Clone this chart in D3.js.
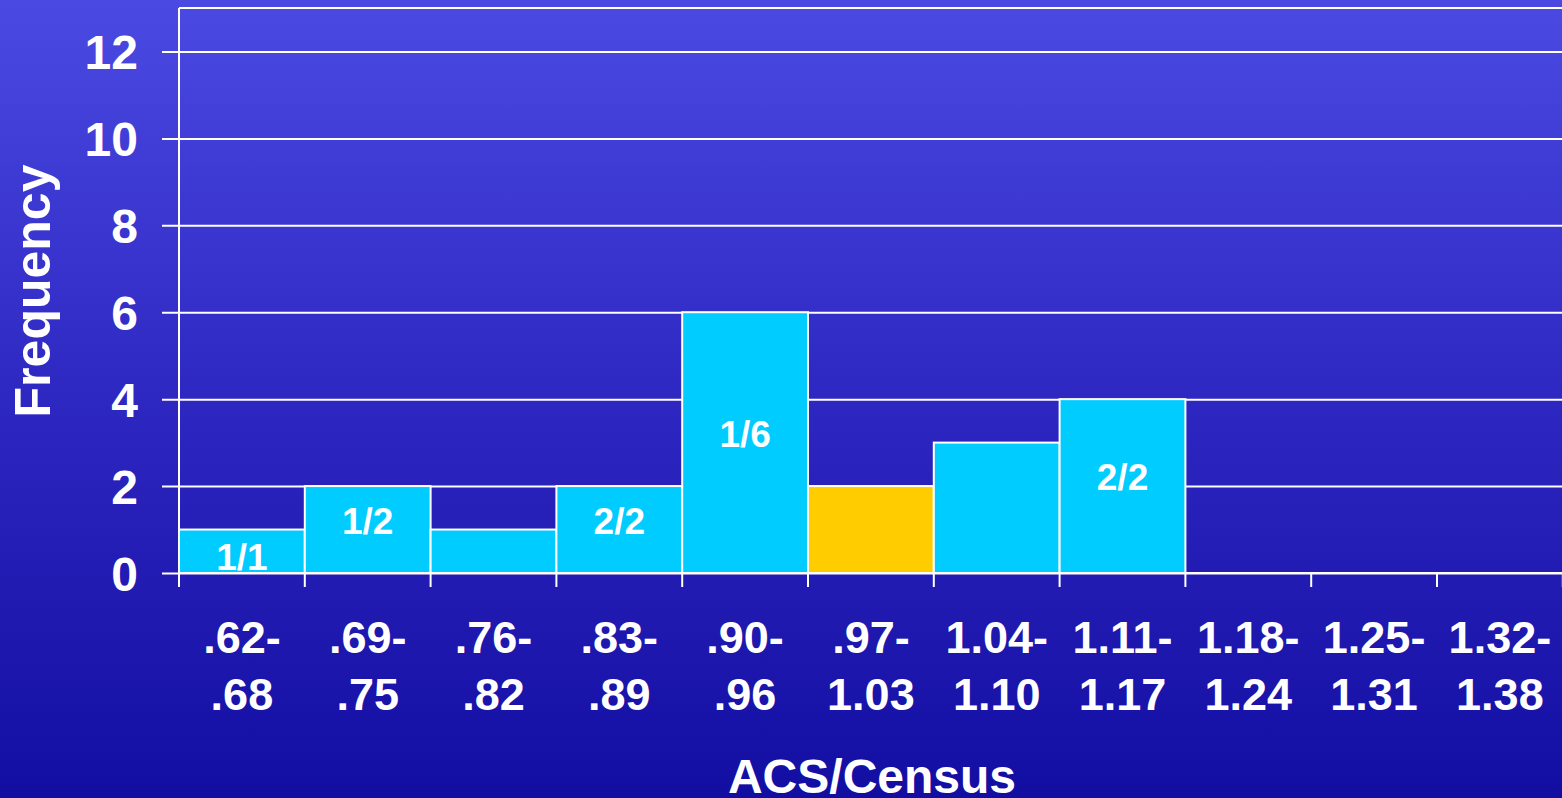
<!DOCTYPE html>
<html>
<head>
<meta charset="utf-8">
<script src="https://cdn.jsdelivr.net/npm/d3@7"></script>
<style>
  html, body { margin: 0; padding: 0; overflow: hidden; }
  svg { display: block; }
</style>
</head>
<body>
<div id="container"></div>
<script>
// Chart size
const width = 1562;
const height = 798;

// Data
const binTop = [".62-", ".69-", ".76-", ".83-", ".90-", ".97-", "1.04-", "1.11-", "1.18-", "1.25-", "1.32-"];
const binBottom = [".68", ".75", ".82", ".89", ".96", "1.03", "1.10", "1.17", "1.24", "1.31", "1.38"];
const frequency = [1, 2, 1, 2, 6, 2, 3, 4, 0, 0, 0];
const barLabels = ["1/1", "1/2", "", "2/2", "1/6", "", "", "2/2", "", "", ""];
const highlight = [false, false, false, false, false, true, false, false, false, false, false];
const yTicks = [0, 2, 4, 6, 8, 10, 12];

const margin = {top: 8, left: 179, bottom: 225};
const font = "Arial, 'Liberation Sans', sans-serif";

const svg = d3.select("#container")
    .append("svg")
    .attr("width", width)
    .attr("height", height);

// Blue gradient background
const grad = svg.append("defs")
    .append("linearGradient")
    .attr("id", "bg")
    .attr("x1", 0).attr("y1", 0)
    .attr("x2", 0).attr("y2", 1);
grad.append("stop").attr("offset", "0%").attr("stop-color", "#4a4ae2");
grad.append("stop").attr("offset", "55%").attr("stop-color", "#2b24be");
grad.append("stop").attr("offset", "100%").attr("stop-color", "#130ea2");

svg.append("rect")
    .attr("width", width)
    .attr("height", height)
    .attr("fill", "url(#bg)");

// Scales
const x = d3.scaleBand()
    .domain(d3.range(binTop.length))
    .range([margin.left, margin.left + 125.8 * binTop.length])
    .padding(0);

const y = d3.scaleLinear()
    .domain([0, 13])
    .range([height - margin.bottom, margin.top]);

// Horizontal gridlines with tick marks on the left
svg.append("g")
    .attr("transform", `translate(${margin.left},0)`)
    .call(d3.axisLeft(y).tickValues(yTicks).tickSize(-(width - margin.left)).tickSizeOuter(0).tickPadding(41))
    .call(g => g.select(".domain").remove())
    .call(g => g.selectAll(".tick line")
        .attr("x1", -17)
        .attr("stroke", "#fff")
        .attr("stroke-width", 2))
    .call(g => g.selectAll(".tick text")
        .attr("fill", "#fff")
        .attr("font-family", font)
        .attr("font-weight", "bold")
        .attr("font-size", 48)
        .attr("dy", "0.36em"));

// Frame: top line and left axis line
svg.append("line")
    .attr("x1", margin.left).attr("x2", width)
    .attr("y1", y(13)).attr("y2", y(13))
    .attr("stroke", "#fff").attr("stroke-width", 2);
svg.append("line")
    .attr("x1", margin.left).attr("x2", margin.left)
    .attr("y1", y(13)).attr("y2", y(0) + 14)
    .attr("stroke", "#fff").attr("stroke-width", 2);

// Bars
svg.append("g")
    .selectAll("rect")
    .data(frequency)
    .join("rect")
    .attr("x", (d, i) => x(i))
    .attr("y", d => y(d))
    .attr("width", x.bandwidth())
    .attr("height", d => y(0) - y(d))
    .attr("fill", (d, i) => highlight[i] ? "#ffcc00" : "#00ccff")
    .attr("stroke", "#fff")
    .attr("stroke-width", 2);

// Labels inside bars (short bars get the label at the bottom)
svg.append("g")
    .selectAll("text")
    .data(frequency)
    .join("text")
    .attr("x", (d, i) => x(i) + x.bandwidth() / 2)
    .attr("y", d => d < 2 ? y(0) - 3 : y(d / 2) + 4)
    .attr("text-anchor", "middle")
    .attr("fill", "#fff")
    .attr("font-family", font)
    .attr("font-weight", "bold")
    .attr("font-size", 37)
    .text((d, i) => barLabels[i]);

// Bottom axis line and tick marks at bin edges
const edges = d3.range(binTop.length + 1).map(i => margin.left + x.step() * i);
svg.append("line")
    .attr("x1", margin.left).attr("x2", width)
    .attr("y1", y(0)).attr("y2", y(0))
    .attr("stroke", "#fff").attr("stroke-width", 2);
svg.append("g")
    .selectAll("line")
    .data(edges)
    .join("line")
    .attr("x1", d => d).attr("x2", d => d)
    .attr("y1", y(0)).attr("y2", y(0) + 14)
    .attr("stroke", "#fff").attr("stroke-width", 2);

// Two-line bin labels
const labels = svg.append("g")
    .attr("fill", "#fff")
    .attr("font-family", font)
    .attr("font-weight", "bold")
    .attr("font-size", 45)
    .attr("text-anchor", "middle");

labels.selectAll(".top")
    .data(binTop)
    .join("text")
    .attr("class", "top")
    .attr("x", (d, i) => x(i) + x.bandwidth() / 2)
    .attr("y", y(0) + 80)
    .text(d => d);

labels.selectAll(".bottom")
    .data(binBottom)
    .join("text")
    .attr("class", "bottom")
    .attr("x", (d, i) => x(i) + x.bandwidth() / 2)
    .attr("y", y(0) + 137)
    .text(d => d);

// Axis titles
svg.append("text")
    .attr("x", 872)
    .attr("y", 793)
    .attr("text-anchor", "middle")
    .attr("fill", "#fff")
    .attr("font-family", font)
    .attr("font-weight", "bold")
    .attr("font-size", 48)
    .text("ACS/Census");

svg.append("text")
    .attr("transform", `translate(50,291) rotate(-90)`)
    .attr("text-anchor", "middle")
    .attr("fill", "#fff")
    .attr("font-family", font)
    .attr("font-weight", "bold")
    .attr("font-size", 50)
    .text("Frequency");
</script>
</body>
</html>
